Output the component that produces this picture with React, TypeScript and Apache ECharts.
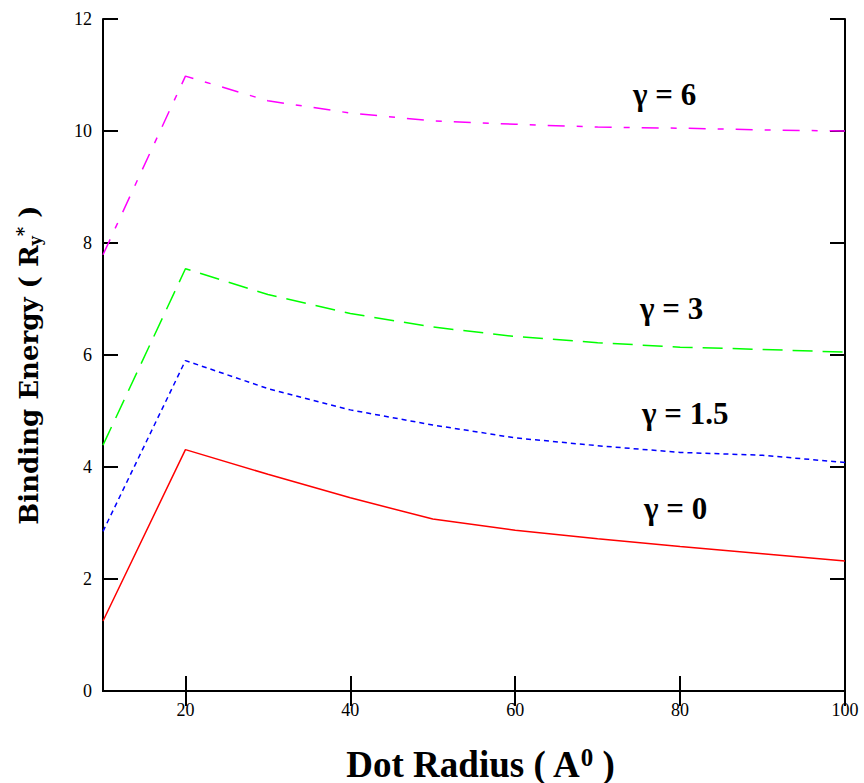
import React, { useEffect, useRef } from "react";
import * as echarts from "echarts";

const radius = [10, 20, 30, 40, 50, 60, 70, 80, 90, 100];
const gamma0 = [1.25, 4.31, 3.87, 3.45, 3.07, 2.87, 2.72, 2.58, 2.45, 2.32];
const gamma15 = [2.85, 5.9, 5.4, 5.02, 4.75, 4.52, 4.38, 4.26, 4.21, 4.08];
const gamma3 = [4.39, 7.54, 7.08, 6.74, 6.5, 6.33, 6.22, 6.14, 6.1, 6.05];
const gamma6 = [7.79, 10.98, 10.54, 10.32, 10.18, 10.12, 10.07, 10.05, 10.02, 10.0];
const xTicks = [20, 40, 60, 80, 100];
const seriesNames = ["γ = 0", "γ = 1.5", "γ = 3", "γ = 6"];

const FONT = "'Liberation Serif', 'Times New Roman', serif";
const SLAB = "'DejaVu Serif', serif";

export default function App() {
  const ref = useRef<HTMLDivElement>(null);
  useEffect(() => {
    if (!ref.current) return;
    const chart = echarts.init(ref.current, null, { renderer: "svg" });
    const pair = (ys: number[]) => radius.map((x, i) => [x, ys[i]]);
    const axisLine = { show: true, lineStyle: { color: "#000", width: 2 } };
    const tick = { show: true, inside: true, length: 15, lineStyle: { color: "#000", width: 2 } };
    const labelStyle = { color: "#000", fontFamily: FONT, fontSize: 18 };
    const mkSeries = (name: string, data: number[], color: string, type: any) => ({
      name,
      type: "line",
      data: pair(data),
      symbol: "none",
      lineStyle: { color, width: 1.5, type },
    });
    const gLabel = (text: string, x: number, y: number) => ({
      type: "text",
      x,
      y,
      style: {
        text,
        fontFamily: FONT,
        fontWeight: "bold",
        fontSize: 31,
        fill: "#000",
        verticalAlign: "middle",
      },
    });
    chart.setOption({
      animation: false,
      backgroundColor: "#fff",
      grid: { left: 103, right: 19, top: 19, bottom: 92 },
      xAxis: [
        {
          type: "value",
          min: 10,
          max: 100,
          position: "bottom",
          axisLine,
          axisTick: { ...tick, customValues: xTicks },
          axisLabel: { ...labelStyle, margin: 10, customValues: xTicks },
          splitLine: { show: false },
        },
        {
          type: "value",
          min: 10,
          max: 100,
          position: "top",
          axisLine,
          axisTick: { ...tick, customValues: xTicks },
          axisLabel: { show: false },
          splitLine: { show: false },
        },
      ],
      yAxis: [
        {
          type: "value",
          min: 0,
          max: 12,
          interval: 2,
          position: "left",
          axisLine,
          axisTick: tick,
          axisLabel: { ...labelStyle, margin: 11 },
          splitLine: { show: false },
        },
        {
          type: "value",
          min: 0,
          max: 12,
          interval: 2,
          position: "right",
          axisLine,
          axisTick: tick,
          axisLabel: { show: false },
          splitLine: { show: false },
        },
      ],
      series: [
        mkSeries(seriesNames[0], gamma0, "#ff0000", "solid"),
        mkSeries(seriesNames[1], gamma15, "#0000ff", [5, 4]),
        mkSeries(seriesNames[2], gamma3, "#00ff00", [20, 10]),
        mkSeries(seriesNames[3], gamma6, "#ff00ff", [17, 12, 6, 12]),
      ],
      graphic: [
        {
          type: "text",
          x: 29,
          y: 365,
          rotation: Math.PI / 2,
          style: {
            text: "Binding Energy ( R{sub|y}{sup|*} )",
            fontFamily: SLAB,
            fontWeight: "bold",
            fontSize: 26,
            fill: "#000",
            align: "center",
            verticalAlign: "middle",
            rich: {
              sub: { fontSize: 16, fontWeight: "bold", fontFamily: SLAB, verticalAlign: "bottom", padding: [11, 0, 0, 0] },
              sup: { fontSize: 18, fontWeight: "bold", fontFamily: SLAB, verticalAlign: "top", padding: [0, 0, 11, 0] },
            },
          },
        },
        {
          type: "text",
          x: 480,
          y: 764,
          style: {
            text: "Dot Radius ( A{sup|0} )",
            fontFamily: FONT,
            fontWeight: "bold",
            fontSize: 37,
            fill: "#000",
            align: "center",
            verticalAlign: "middle",
            rich: {
              sup: { fontSize: 25, fontWeight: "bold", fontFamily: FONT, verticalAlign: "top", padding: [0, 0, 13, 0] },
            },
          },
        },
        gLabel(seriesNames[3], 633, 94),
        gLabel(seriesNames[2], 640, 308),
        gLabel(seriesNames[1], 642, 413),
        gLabel(seriesNames[0], 644, 508),
      ],
    });
    return () => chart.dispose();
  }, []);
  return (
    <div
      ref={ref}
      style={{ position: "absolute", left: 0, top: 0, width: 864, height: 783, background: "#fff" }}
    />
  );
}
